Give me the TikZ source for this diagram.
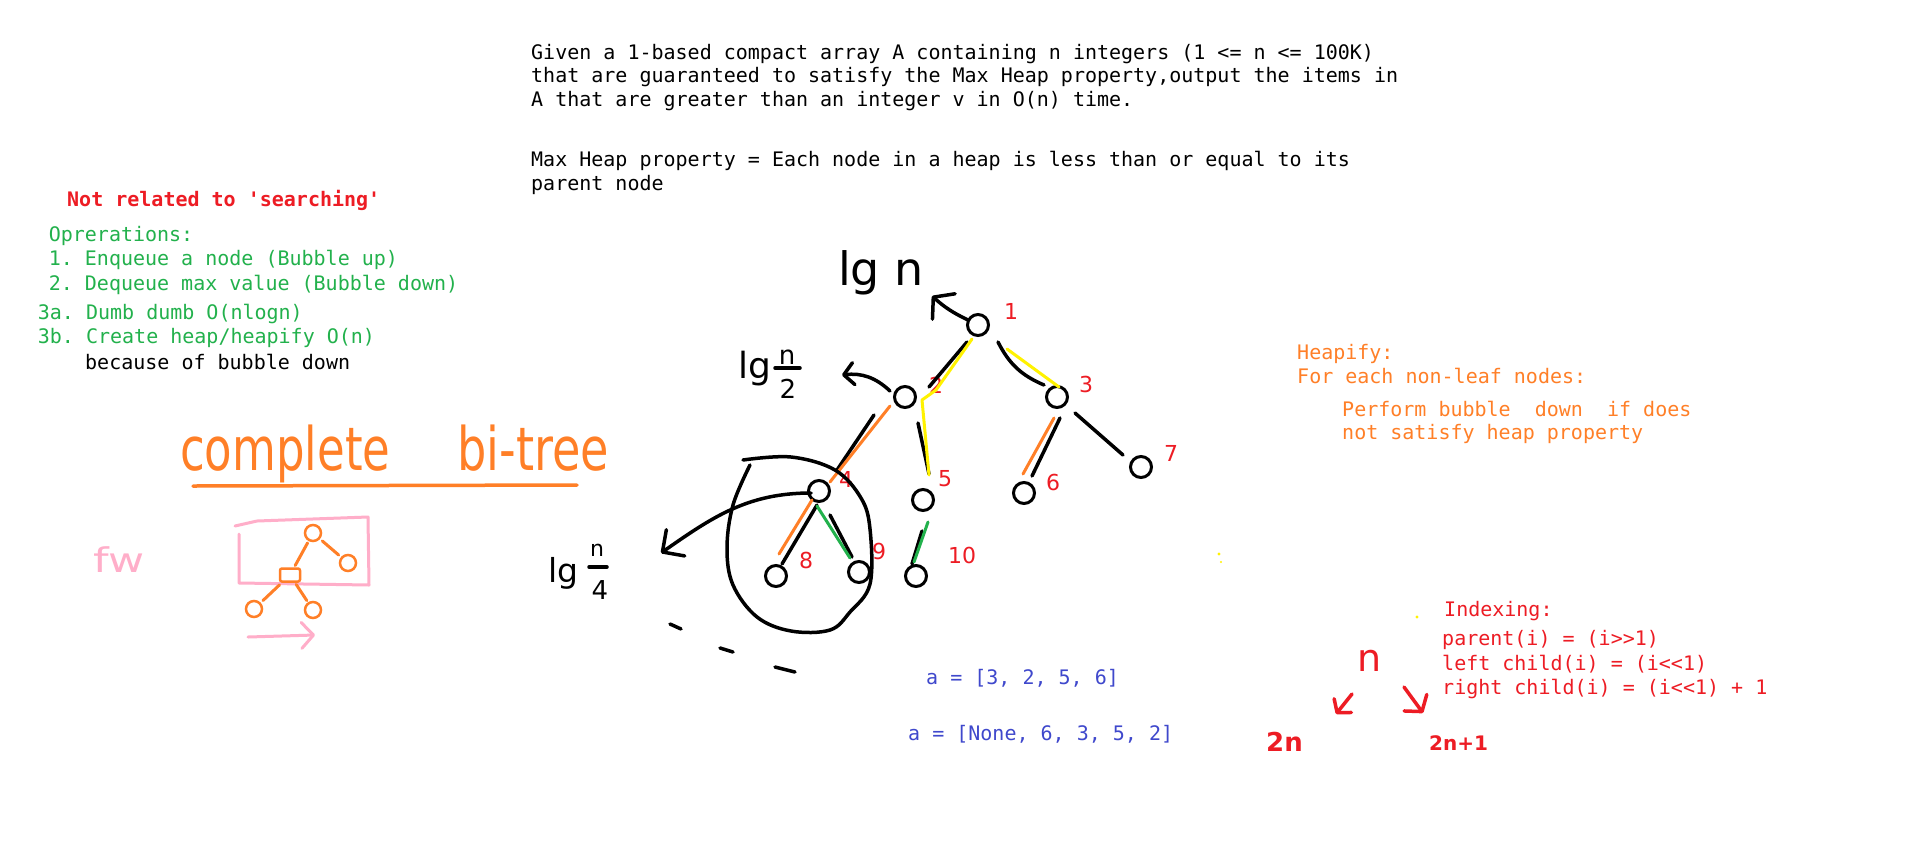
\documentclass[tikz,border=0pt]{standalone}
\usepackage{fontspec}
\setmonofont{DejaVu Sans Mono}
\setsansfont{DejaVu Sans}
\usetikzlibrary{arrows.meta,calc}
\definecolor{pRed}{HTML}{ED1C24}
\definecolor{pGreen}{HTML}{22B14C}
\definecolor{pOrange}{HTML}{FF7F27}
\definecolor{pBlue}{HTML}{3F48CC}
\definecolor{pPink}{HTML}{FFAEC9}
\definecolor{pYellow}{HTML}{FFF200}
\begin{document}
\begin{tikzpicture}[x=1pt,y=-1pt,
  txt/.style={anchor=base west, inner sep=0pt, font=\fontsize{20}{24}\selectfont\ttfamily},
  hwt/.style={inner sep=0pt, font=\sffamily},
  bk/.style={draw=black, line width=3.5pt, line cap=round, line join=round},
  yl/.style={draw=pYellow, line width=3pt, line cap=round, line join=round},
  orl/.style={draw=pOrange, line width=3pt, line cap=round, line join=round},
  gr/.style={draw=pGreen, line width=3pt, line cap=round, line join=round},
  pk/.style={draw=pPink, line width=3pt, line cap=round, line join=round},
  rd/.style={draw=pRed, line width=3.5pt, line cap=round, line join=round},
  tn/.style={circle, draw=black, line width=3pt, minimum size=21pt, inner sep=0pt},
  st/.style={circle, draw=pOrange, line width=2.5pt, minimum size=16pt, inner sep=0pt},
  lab/.style={text=pRed, font=\fontsize{22}{22}\selectfont\sffamily, inner sep=0pt}]
\fill[white] (0,0) rectangle (1906,863);
\useasboundingbox (0,0) rectangle (1906,863);

% ---- top problem statement
\node[txt] (p1) at (531,59) {Given a 1-based compact array A containing n integers (1 <= n <= 100K)};
\node[txt] (p2) at (531,82) {that are guaranteed to satisfy the Max Heap property,output the items in};
\node[txt] (p3) at (531,106) {A that are greater than an integer v in O(n) time.};
\node[txt] (p4) at (531,166) {Max Heap property = Each node in a heap is less than or equal to its};
\node[txt] (p5) at (531,190) {parent node};

% ---- left notes
\node[txt, text=pRed, font=\fontsize{20}{24}\selectfont\ttfamily\bfseries] (nr) at (67,206) {Not related to 'searching'};
\node[txt, text=pGreen] (o0) at (48.6,241) {Oprerations:};
\node[txt, text=pGreen] (o1) at (48.6,265) {1. Enqueue a node (Bubble up)};
\node[txt, text=pGreen] (o2) at (48.6,290) {2. Dequeue max value (Bubble down)};
\node[txt, text=pGreen] (o3) at (37.7,319) {3a. Dumb dumb O(nlogn)};
\node[txt, text=pGreen] (o4) at (37.7,343) {3b. Create heap/heapify O(n)};
\node[txt] (o5) at (85,369) {because of bubble down};

% ---- heapify notes
\node[txt, text=pOrange] (h1) at (1297,359) {Heapify:};
\node[txt, text=pOrange] (h2) at (1297,383) {For each non-leaf nodes:};
\node[txt, text=pOrange] (h3) at (1342,416) {Perform bubble~ down~ if does};
\node[txt, text=pOrange] (h4) at (1342,439) {not satisfy heap property};

% ---- indexing notes
\node[txt, text=pRed] (i1) at (1444,616) {Indexing:};
\node[txt, text=pRed] (i2) at (1442,645) {parent(i) = (i>>1)};
\node[txt, text=pRed] (i3) at (1442,670) {left child(i) = (i<<1)};
\node[txt, text=pRed] (i4) at (1442,694) {right child(i) = (i<<1) + 1};

% ---- arrays
\node[txt, text=pBlue] (a1) at (926,684) {a = [3, 2, 5, 6]};
\node[txt, text=pBlue] (a2) at (908,740) {a = [None, 6, 3, 5, 2]};

% ---- complete bi-tree
\node[hwt, anchor=base west, text=pOrange, font=\fontsize{60}{60}\selectfont\sffamily] (cw1) at (180,470) {\scalebox{0.75}[1]{complete}};
\node[hwt, anchor=base west, text=pOrange, font=\fontsize{60}{60}\selectfont\sffamily] (cw2) at (457,470) {\scalebox{0.77}[1]{bi-tree}};
\draw[orl, line width=3.5pt] (193,486) -- (577,485);

\node[hwt, anchor=base west, text=pPink, font=\fontsize{34}{34}\selectfont\sffamily] (fw) at (93,572) {\scalebox{1.3}[1]{fw}};

\draw[pk] (235,526) -- (257,521) -- (368,517) -- (369,585) -- (239,583) -- (239,534);
\node[st] (s1) at (313,533) {};
\node[st] (s2) at (348,563) {};
\node[draw=pOrange, line width=2.5pt, rounded corners=2pt, minimum width=20pt, minimum height=13pt, inner sep=0pt] (s3) at (290,575) {};
\node[st] (s4) at (254,609) {};
\node[st] (s5) at (313,610) {};
\draw[orl, shorten <=2pt, shorten >=2pt] (s1) -- (s3);
\draw[orl, shorten <=3pt, shorten >=3pt] (s1) -- (s2);
\draw[orl, shorten <=3pt, shorten >=3pt] (s3) -- (s4);
\draw[orl, shorten <=2pt, shorten >=2pt] (s3) -- (s5);
\coordinate (pa0) at (248,637);
\coordinate (pa1) at (315,635);
\draw[pk, -{Straight Barb[length=12pt,width=26pt,round]}] (pa0) -- (pa1);

% ---- heap tree
\node[tn] (n1) at (978,325) {};
\node[tn] (n2) at (905,397) {};
\node[tn] (n3) at (1057,397) {};
\node[tn] (n4) at (819,491) {};
\node[tn] (n5) at (923,500) {};
\node[tn] (n6) at (1024,493) {};
\node[tn] (n7) at (1141,467) {};
\node[tn] (n8) at (776,576) {};
\node[tn] (n9) at (859,572) {};
\node[tn] (n10) at (916,576) {};

\node[lab] (l1) at (1011,311) {1};
\node[lab] (l2) at (936,385) {2};
\node[lab] (l3) at (1086,384) {3};
\node[lab] (l4) at (846,479) {4};
\node[lab] (l5) at (945,479) {5};
\node[lab] (l6) at (1053,482) {6};
\node[lab] (l7) at (1171,453) {7};
\node[lab] (l8) at (806,560) {8};
\node[lab] (l9) at (879,551) {9};
\node[lab] (l10) at (962,555) {10};

% black edges
\draw[bk] ($(n1)+(-11,17)$) -- ($(n2)+(24,-10)$);
\draw[bk] ($(n1)+(20,17)$) to[bend right=20] ($(n3)+(-13,-12)$);
\draw[bk] ($(n2)+(13,26)$) -- ($(n5)+(6,-26)$);
\draw[bk] ($(n2)+(-31,18)$) -- ($(n4)+(18,-21)$);
\draw[bk] ($(n3)+(3,21)$) -- ($(n6)+(8,-17)$);
\draw[bk] ($(n3)+(18,16)$) -- ($(n7)+(-18,-12)$);
\draw[bk] ($(n4)+(-2,14)$) -- ($(n8)+(6,-12)$);
\draw[bk] ($(n4)+(11,24)$) -- ($(n9)+(-7,-15)$);
\draw[bk] ($(n5)+(-1,31)$) -- ($(n10)+(-4,-12)$);

% coloured edges
\draw[yl] ($(n1)+(-6,14)$) -- ($(n2)+(31,-7)$) -- ($(n2)+(17,3)$) -- ($(n5)+(6,-25)$);
\draw[yl] ($(n1)+(29,24)$) -- ($(n3)+(2,-10)$);
\draw[orl] ($(n2)+(-15,9)$) -- ($(n4)+(11,-9)$);
\draw[orl] ($(n3)+(-3,21)$) -- ($(n6)+(-1,-19)$);
\draw[orl] ($(n4)+(-7,9)$) -- ($(n8)+(3,-22)$);
\draw[gr] ($(n4)+(-2,15)$) -- ($(n9)+(-9,-14)$);
\draw[gr] ($(n5)+(5,22)$) -- ($(n10)+(-2,-14)$);

% level arrows
\coordinate (tipA) at (932,296);
\draw[bk, -{Straight Barb[length=14pt,width=34pt,round]}] ($(n1)+(-10,-5)$) to[bend left=8] (tipA);
\coordinate (tipB) at (842,375);
\draw[bk, -{Straight Barb[length=10pt,width=22pt,round]}] ($(n2)+(-15,-6)$) to[bend right=25] (tipB);
\coordinate (tipC) at (661,553);
\draw[bk, -{Straight Barb[length=16pt,width=32pt,round]}] ($(n4)+(-8,2)$) to[out=180,in=35] (tipC);

% level labels
\node[hwt, anchor=base west, font=\fontsize{46}{46}\selectfont\sffamily] (lgn) at (838,285) {lg n};
\node[hwt, anchor=base west, font=\fontsize{36}{36}\selectfont\sffamily] (lg2) at (738,378) {lg};
\node[hwt, font=\fontsize{26}{26}\selectfont\sffamily] (lg2n) at (787,357) {n};
\draw[bk] (775,368) -- (800,368);
\node[hwt, font=\fontsize{26}{26}\selectfont\sffamily] (lg2d) at (788,389) {2};
\node[hwt, anchor=base west, font=\fontsize{33}{33}\selectfont\sffamily] (lg4) at (548,582) {lg};
\node[hwt, font=\fontsize{22}{22}\selectfont\sffamily] (lg4n) at (597,550) {n};
\draw[bk] (589,567) -- (607,567);
\node[hwt, font=\fontsize{26}{26}\selectfont\sffamily] (lg4d) at (600,590) {4};

% circle around subtree
\draw[bk] plot[smooth, tension=0.6] coordinates {(743,460) (791,457) (835,470) (861,498) (870,529) (870,584) (850,612) (830,630) (791,631) (757,617) (733,585) (727,548) (733,505) (750,465)};
% dots
\draw[bk] (670,624) -- (681,629);
\draw[bk] (720,648) -- (733,652);
\draw[bk] (775,667) -- (795,672);

% ---- n -> 2n, 2n+1
\node[hwt, anchor=base west, text=pRed, font=\fontsize{38}{38}\selectfont\sffamily] (hn) at (1357,671) {n};
\coordinate (ar1a) at (1352,694);
\coordinate (ar1b) at (1336,714);
\draw[rd, -{Straight Barb[length=9pt,width=22pt,round]}] (ar1a) -- (ar1b);
\coordinate (ar2a) at (1404,687);
\coordinate (ar2b) at (1423,713);
\draw[rd, -{Straight Barb[length=11pt,width=28pt,round]}] (ar2a) -- (ar2b);
\node[hwt, anchor=base west, text=pRed, font=\fontsize{26}{26}\selectfont\sffamily\bfseries] (h2n) at (1266,751) {2n};
\node[hwt, anchor=base west, text=pRed, font=\fontsize{20}{20}\selectfont\sffamily\bfseries] (h2n1) at (1429,750) {2n+1};

% yellow specks
\fill[pYellow] (1219,554) circle (1.6);
\fill[pYellow] (1221,562) circle (1.2);
\fill[pYellow] (1417,617) circle (1.6);
\end{tikzpicture}
\end{document}
